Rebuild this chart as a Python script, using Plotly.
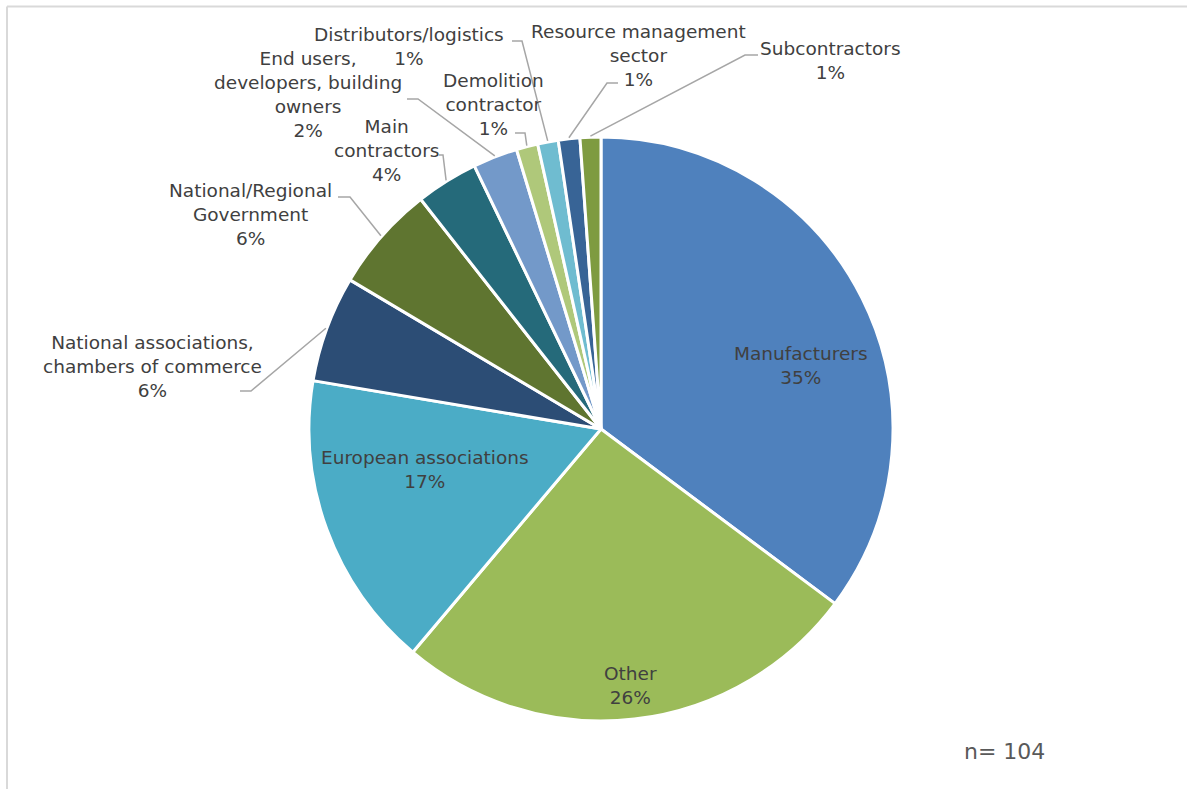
import math
import plotly.graph_objects as go

# ---------------- data ----------------
categories = [
    "Manufacturers",
    "Other",
    "European associations",
    "National associations, chambers of commerce",
    "National/Regional Government",
    "Main contractors",
    "End users, developers, building owners",
    "Demolition contractor",
    "Distributors/logistics",
    "Resource management sector",
    "Subcontractors",
]
# slice shares (%)
values = [35.2, 25.95, 16.5, 5.88, 5.88, 3.45, 2.47, 1.19, 1.14, 1.19, 1.15]
# percentage labels as printed on the chart
pct_labels = ["35%", "26%", "17%", "6%", "6%", "4%", "2%", "1%", "1%", "1%", "1%"]
label_text = [
    "Manufacturers",
    "Other",
    "European associations",
    "National associations,<br>chambers of commerce",
    "National/Regional<br>Government",
    "Main<br>contractors",
    "End users,<br>developers, building<br>owners",
    "Demolition<br>contractor",
    "Distributors/logistics",
    "Resource management<br>sector",
    "Subcontractors",
]
sample_note = "n= 104"

# ---------------- style / layout ----------------
colors = ["#4F81BD", "#9BBB59", "#4BACC6", "#2C4D75", "#5F7530", "#256A7A",
          "#7399C9", "#AFC87A", "#6FBCD0", "#386496", "#7E9B40"]
W, H = 1187, 789
CX, CY, R = 601, 429, 292
FONT = "DejaVu Sans"
TXT = "#404040"

# label block centre (px) and optional leader (start x, elbow x, y)
label_layout = [
    (801, 365, None),
    (630, 685, None),
    (425, 469, None),
    (152, 366, (240, 251, 391)),
    (250, 214, (338, 350, 197)),
    (386, 150, (439, 443, 155)),
    (308, 94, (407, 418, 99)),
    (493, 104, (515, 525, 133)),
    (409, 46, (512, 522, 41)),
    (638, 55, (618, 607, 83)),
    (830, 60, (758, 745, 55)),
]

fig = go.Figure()
fig.add_trace(go.Pie(
    labels=categories, values=values, sort=False, direction="clockwise",
    rotation=0, textinfo="none", hoverinfo="label",
    marker=dict(colors=colors, line=dict(color="white", width=3)),
    domain=dict(x=[(CX - R) / W, (CX + R) / W],
                y=[1 - (CY + R) / H, 1 - (CY - R) / H]),
    showlegend=False,
))

total = sum(values)
shapes = []
annotations = []
cum = 0.0
for v, txt, pct, (tx, ty, leader) in zip(values, label_text, pct_labels, label_layout):
    mid = (cum + v / 2) / total
    cum += v
    annotations.append(dict(
        x=tx, y=ty, xref="x", yref="y", xanchor="center", yanchor="middle",
        text=f"{txt}<br>{pct}", showarrow=False, align="center",
        font=dict(family=FONT, size=18.5, color=TXT)))
    if leader is not None:
        th = 2 * math.pi * mid
        ex = CX + (R + 1) * math.sin(th)
        ey = CY - (R + 1) * math.cos(th)
        x0, x1, ly = leader
        shapes.append(dict(
            type="path", xref="x", yref="y",
            path=f"M {x0} {ly} L {x1} {ly} L {ex:.1f} {ey:.1f}",
            line=dict(color="#A6A6A6", width=1.5)))

annotations.append(dict(
    x=1004, y=751, xref="x", yref="y", xanchor="center", yanchor="middle",
    text=sample_note, showarrow=False,
    font=dict(family=FONT, size=22, color="#595959")))

# chart frame (top and left edges)
shapes.append(dict(type="line", xref="x", yref="y", x0=7, x1=W, y0=6.5, y1=6.5,
                   line=dict(color="#D9D9D9", width=2)))
shapes.append(dict(type="line", xref="x", yref="y", x0=7, x1=7, y0=6.5, y1=H,
                   line=dict(color="#D9D9D9", width=2)))

fig.update_layout(
    width=W, height=H, margin=dict(l=0, r=0, t=0, b=0),
    paper_bgcolor="white", plot_bgcolor="rgba(0,0,0,0)",
    xaxis=dict(range=[0, W], visible=False, fixedrange=True, domain=[0, 1]),
    yaxis=dict(range=[H, 0], visible=False, fixedrange=True, domain=[0, 1]),
    shapes=shapes, annotations=annotations,
)

fig.write_html("out.html", config={"displayModeBar": False},
               post_script="document.body.style.margin='0';")
